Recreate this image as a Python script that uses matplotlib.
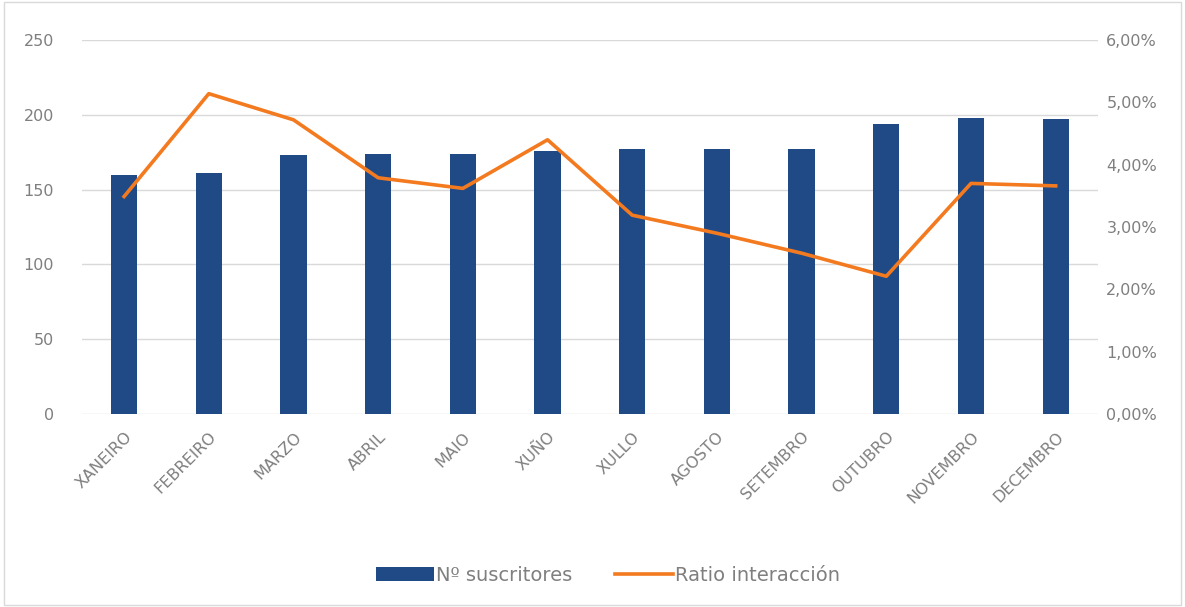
import numpy as np
import matplotlib.pyplot as plt
from matplotlib.ticker import FuncFormatter

plt.rcParams['font.family'] = ['DejaVu Sans']

meses = ['XANEIRO', 'FEBREIRO', 'MARZO', 'ABRIL', 'MAIO', 'XUÑO', 'XULLO',
         'AGOSTO', 'SETEMBRO', 'OUTUBRO', 'NOVEMBRO', 'DECEMBRO']
suscritores = [160, 161, 173, 174, 174, 176, 177, 177, 177, 194, 198, 197]
ratio = [3.49, 5.14, 4.72, 3.79, 3.62, 4.40, 3.19, 2.90, 2.58, 2.21, 3.70, 3.66]

cor_barra = '#1f4a86'
cor_linha = '#f47a20'
cor_texto = '#7f7f7f'

fig = plt.figure(figsize=(11.85, 6.07), dpi=100)
ax = fig.add_axes([0.069, 0.318, 0.8576, 0.616])
x = np.arange(len(meses))

# barras de suscritores
ax.bar(x, suscritores, width=0.31, color=cor_barra, label='Nº suscritores', zorder=2)
ax.set_ylim(0, 250)
ax.set_yticks(range(0, 251, 50))
ax.set_xlim(-0.5, len(meses) - 0.5)
ax.grid(axis='y', color='#d9d9d9', linewidth=1, zorder=0)
ax.set_axisbelow(True)
for s in ax.spines.values():
    s.set_visible(False)
ax.tick_params(axis='both', length=0, colors=cor_texto, labelsize=11.5)
ax.tick_params(axis='y', pad=20)
ax.set_xticks(x)
ax.set_xticklabels(meses, rotation=45, ha='right', rotation_mode='anchor')
ax.tick_params(axis='x', pad=11)

# ratio de interacción no eixo dereito
ax2 = ax.twinx()
ax2.plot(x, ratio, color=cor_linha, linewidth=2.6, label='Ratio interacción', zorder=3)
ax2.set_ylim(0, 6)
ax2.set_yticks(range(0, 7))
ax2.yaxis.set_major_formatter(FuncFormatter(lambda v, p: ('%.2f%%' % v).replace('.', ',')))
for s in ax2.spines.values():
    s.set_visible(False)
ax2.tick_params(axis='y', length=0, colors=cor_texto, labelsize=11.5, pad=6)

h1, l1 = ax.get_legend_handles_labels()
h2, l2 = ax2.get_legend_handles_labels()
fig.legend(h1 + h2, l1 + l2, loc='center', bbox_to_anchor=(0.513, 0.052), ncol=2,
           frameon=False, fontsize=14, labelcolor=cor_texto, handlelength=3.0,
           handletextpad=0.1, columnspacing=2.2)

# marco do gráfico
fig.patches.append(plt.Rectangle((0.003, 0.003), 0.994, 0.994, transform=fig.transFigure,
                                 fill=False, edgecolor='#d9d9d9', linewidth=1))

fig.savefig('out.png', dpi=100)
